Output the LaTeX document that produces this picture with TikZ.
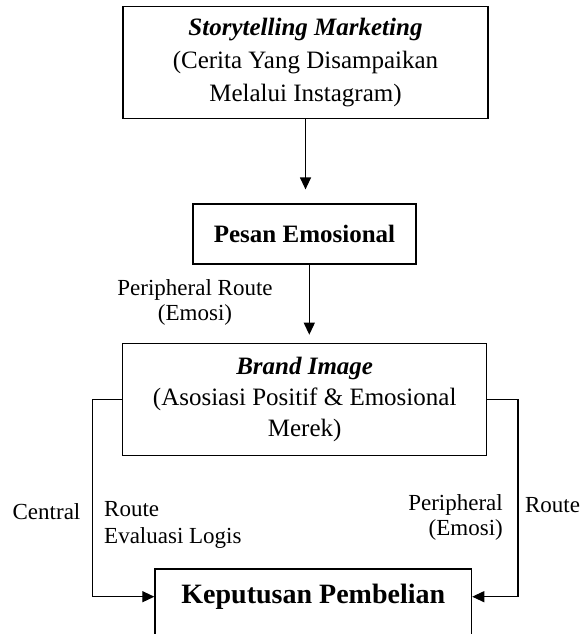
\documentclass[tikz,border=0pt]{standalone}
\usepackage{fontspec}
\setmainfont{Liberation Serif}
\usetikzlibrary{arrows.meta}

\begin{document}
\begin{tikzpicture}[x=1pt,y=-1pt,
    box/.style={draw,line width=1.2pt,align=center,inner sep=0pt,font=\fontsize{25}{33}\selectfont},
    lbl/.style={inner sep=0pt,font=\fontsize{23}{25}\selectfont},
    arr/.style={-{Triangle[length=12pt,width=11pt]},line width=1.2pt}]
    \clip (0,0) rectangle (582,634);

    % Boxes
    \node[box,minimum width=365pt,minimum height=112pt] (story) at (305.5,62.8)
        {\textbf{\textit{Storytelling Marketing}}\\(Cerita Yang Disampaikan\\Melalui Instagram)};
    \node[box,minimum width=223pt,minimum height=60pt] (pesan) at (304.5,234)
        {\textbf{Pesan Emosional}};
    \node[box,minimum width=364pt,minimum height=112.4pt,font=\fontsize{25}{31}\selectfont] (brand) at (304.7,399.5)
        {\textbf{\textit{Brand Image}}\\(Asosiasi Positif \& Emosional\\Merek)};
    \node[box,anchor=north,minimum width=316.7pt,text height=34.7pt,text depth=50pt,font=\fontsize{28}{34}\selectfont\bfseries] (keputusan) at (313.3,568.3)
        {Keputusan Pembelian};

    % Labels
    \node[lbl,align=center] (periph1) at (195,302.5) {Peripheral Route\\(Emosi)};
    \node[lbl] (central) at (46.5,511.7) {Central};
    \node[lbl,align=left,anchor=west,font=\fontsize{23}{26.6}\selectfont] (evaluasi) at (104,525) {Route\\Evaluasi Logis};
    \node[lbl,align=right,anchor=east,font=\fontsize{23}{25}\selectfont] (periph2) at (503,517.5) {Peripheral\\(Emosi)};
    \node[lbl] (route) at (552.5,505) {Route};

    % Arrows
    \draw[arr,shorten >=14pt] (story.south) -- (story.south |- pesan.north);
    \draw[arr,shorten >=8pt] ([xshift=4.8pt]pesan.south) -- ([xshift=4.8pt]pesan.south |- brand.north);
    \draw[arr] (brand.west) -- ++(-29.4,0) |- ([yshift=-28.4pt]keputusan.north west);
    \draw[arr] (brand.east) -- ++(30.6,0) |- ([yshift=-28.4pt]keputusan.north east);
\end{tikzpicture}
\end{document}
